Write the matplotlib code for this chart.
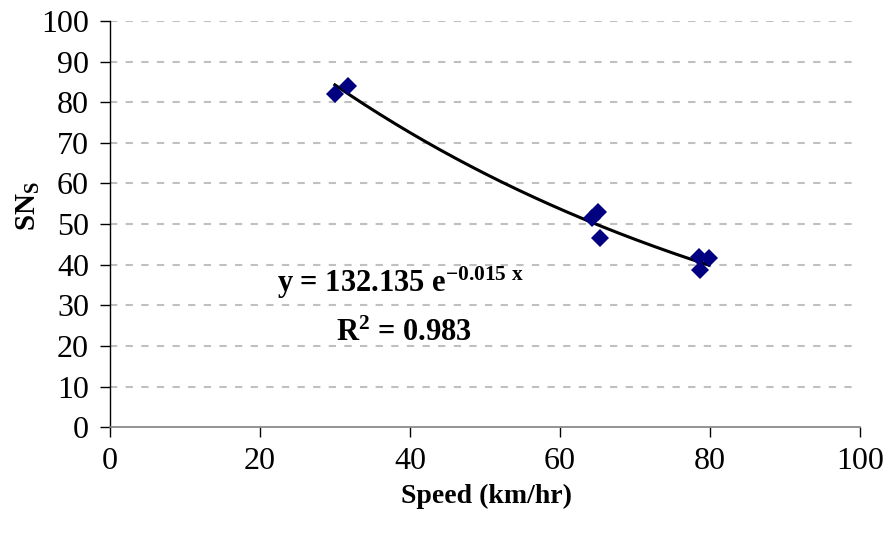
import numpy as np
import matplotlib
matplotlib.use('Agg')
import matplotlib.pyplot as plt

# Datos
speed = [30.0, 31.8, 64.3, 65.1, 65.4, 78.6, 78.7, 79.9]
sns_vals = [82.0, 84.0, 51.5, 53.0, 46.5, 42.0, 38.7, 41.6]

# coeficientes de la linea de tendencia (del texto del grafico)
a_coef = 132.135
b_coef = -0.015

plt.rcParams['font.family'] = 'Liberation Serif'
plt.rcParams['mathtext.fontset'] = 'custom'
plt.rcParams['mathtext.rm'] = 'Liberation Serif:bold'
plt.rcParams['mathtext.it'] = 'Liberation Serif:bold'
plt.rcParams['mathtext.bf'] = 'Liberation Serif:bold'
plt.rcParams['mathtext.default'] = 'rm'

fig = plt.figure(figsize=(8.93, 5.36), dpi=100)
ax = fig.add_axes([0.123, 0.203, 0.840, 0.758])

# linea de tendencia exponencial
xt = np.linspace(min(speed), max(speed), 200)
ax.plot(xt, a_coef * np.exp(b_coef * xt), color='black', lw=2.2, zorder=3)

ax.plot(speed, sns_vals, linestyle='none', marker='D', markersize=9,
        color='#000080', markeredgewidth=0, zorder=4)

ax.set_xlim(0, 100)
ax.set_ylim(0, 100)
ax.set_xticks(np.arange(0, 101, 20))
ax.set_yticks(np.arange(0, 101, 10))

for yv in range(10, 101, 10):
    ax.axhline(yv, color='#c0c0c0', lw=1.5, dashes=(3.5, 4), zorder=1)

ax.spines['top'].set_visible(False)
ax.spines['right'].set_visible(False)
ax.spines['left'].set_color('black')
ax.spines['bottom'].set_color('#808080')
ax.spines['left'].set_linewidth(1.0)
ax.spines['bottom'].set_linewidth(1.2)

ax.tick_params(axis='y', direction='out', length=7, width=1, labelsize=23, pad=8)
ax.tick_params(axis='x', direction='out', length=7, width=1, labelsize=23, pad=7)

ax.set_xlabel('Speed (km/hr)', fontsize=20, fontweight='bold')
ax.xaxis.set_label_coords(0.502, -0.14)
ax.set_ylabel('SN$_S$', fontsize=21, fontweight='bold')
ax.yaxis.set_label_coords(-0.09, 0.545)

ax.text(38.8, 35.5, 'y = 132.135 e$^{-0.015\\ x}$', fontsize=22, fontweight='bold',
        ha='center', va='center')
ax.text(39.2, 23.0, 'R$^2$ = 0.983', fontsize=22, fontweight='bold',
        ha='center', va='center')

plt.savefig('out.png', dpi=100)
